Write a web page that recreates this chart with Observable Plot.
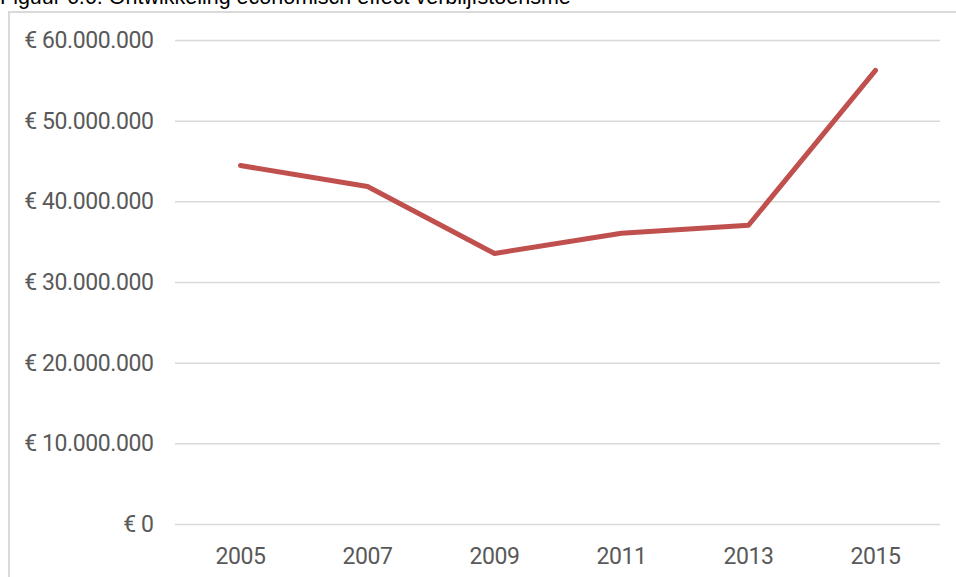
<!DOCTYPE html>
<html>
<head>
<meta charset="utf-8">
<script src="https://cdn.jsdelivr.net/npm/d3@7"></script>
<script src="https://cdn.jsdelivr.net/npm/@observablehq/plot@0.6"></script>
<style>
  html, body { margin: 0; padding: 0; background: #fff; overflow: hidden; width: 956px; height: 577px; }
  #title { position: absolute; left: 0; top: -15px; font-family: "Liberation Sans", Arial, sans-serif; font-size: 21.5px; color: #000; white-space: nowrap; }
  #frame { position: absolute; left: 8px; top: 11px; width: 1000px; height: 700px; border: 2px solid #d9d9d9; box-sizing: border-box; }
  #chart { position: absolute; left: 0; top: 0; }
</style>
</head>
<body>
<div id="title">Figuur 6.6: Ontwikkeling economisch effect verblijfstoerisme</div>
<div id="frame"></div>
<div id="chart"></div>
<script>
const years = ["2005", "2007", "2009", "2011", "2013", "2015"];
const values = [44500000, 41900000, 33600000, 36100000, 37100000, 56300000];
const yTicks = [0, 10000000, 20000000, 30000000, 40000000, 50000000, 60000000];

const data = years.map((y, i) => ({year: y, value: values[i]}));
const nl = d3.formatLocale({decimal: ",", thousands: ".", grouping: [3], currency: ["€ ", ""]});
const fmt = v => "€ " + nl.format(",")(v);
const font = '"Liberation Sans Narrow", "Arial Narrow", Roboto, sans-serif';

const chart = Plot.plot({
  width: 956,
  height: 577,
  marginLeft: 175,
  marginRight: 16,
  marginTop: 40,
  marginBottom: 53,
  style: {fontFamily: font, fontSize: "23px", color: "#595959", background: "transparent", overflow: "visible", letterSpacing: "-0.4px"},
  x: {type: "point", domain: years, padding: 0.5, label: null},
  y: {domain: [0, 60000000], label: null},
  marks: [
    Plot.ruleY(yTicks, {stroke: "#d9d9d9", strokeWidth: 1.5}),
    Plot.axisY(yTicks, {tickFormat: fmt, tickSize: 0, tickPadding: 22, fontSize: 23, fill: "#595959", label: null}),
    Plot.axisX(years, {tickSize: 0, tickPadding: 23, fontSize: 23, fill: "#595959", label: null}),
    Plot.line(data, {x: "year", y: "value", stroke: "#c0504d", strokeWidth: 5, strokeLinecap: "round", strokeLinejoin: "round"})
  ]
});
document.getElementById("chart").appendChild(chart);
</script>
</body>
</html>
